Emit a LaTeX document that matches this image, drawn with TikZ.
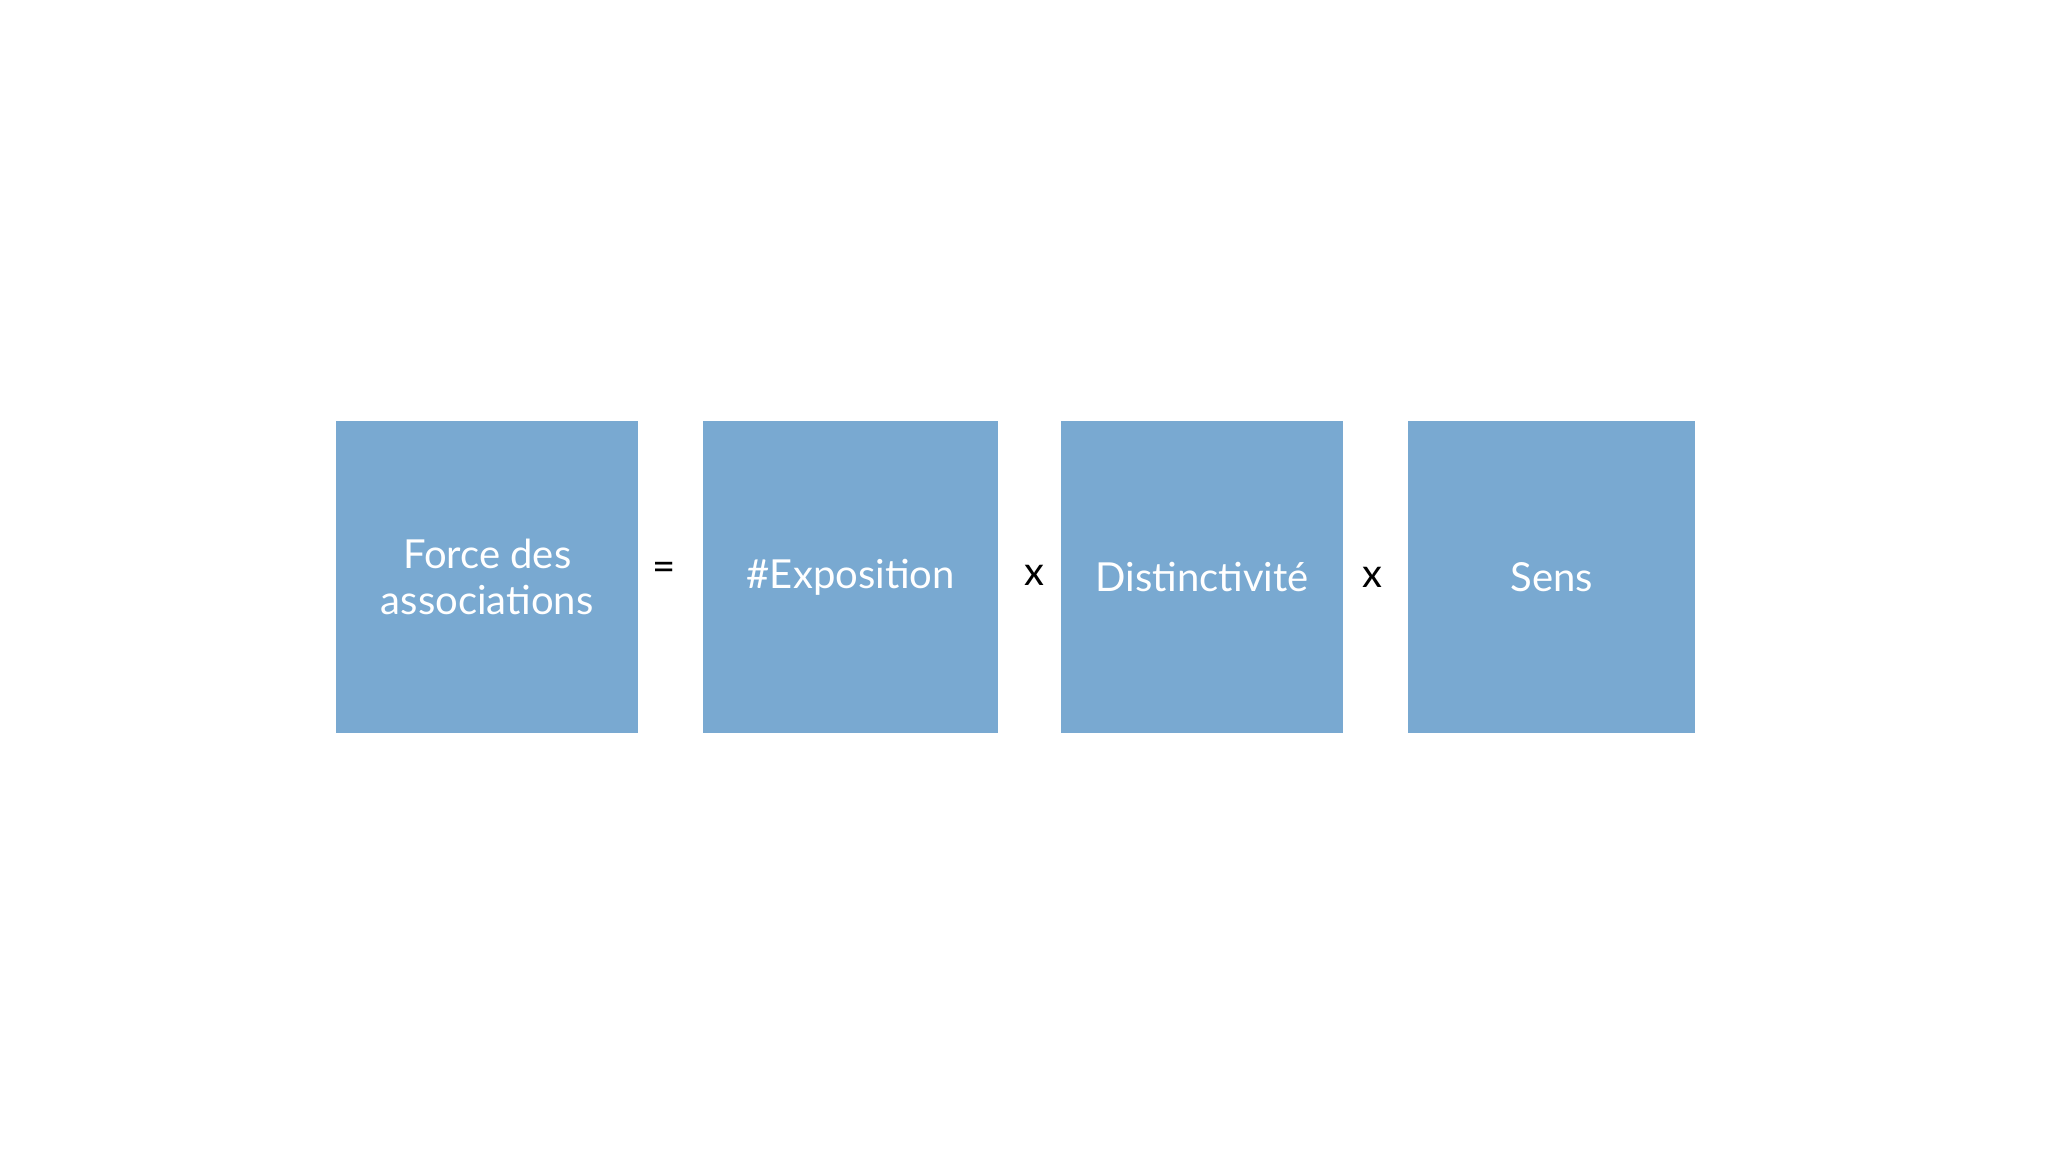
\documentclass[tikz,border=0pt]{standalone}
\usepackage{fontspec}
\setmainfont{Lato}
\definecolor{boxblue}{HTML}{79A9D1}
\tikzset{
  card/.style={fill=boxblue,draw=none,anchor=north west,inner sep=0pt,text=white,align=center,font=\fontsize{40}{46}\selectfont},
  op/.style={text=black,font=\fontsize{40}{46}\selectfont,inner sep=0pt}
}
\begin{document}
\begin{tikzpicture}[x=1pt,y=-1pt]
\useasboundingbox[fill=white] (0,0) rectangle (2048,1152);
\node[card,minimum width=302pt,minimum height=312pt] (a) at (336,421) {Force des\\associations};
\node[card,minimum width=295pt,minimum height=312pt] (b) at (703,421) {\#Exposition};
\node[card,minimum width=282pt,minimum height=312pt] (c) at (1061,421) {Distinctivité};
\node[card,minimum width=287pt,minimum height=312pt] (d) at (1408,421) {Sens};
\node[op] (e) at (664,571) {=};
\node[op] (x1) at (1034,575) {x};
\node[op] (x2) at (1372,577) {x};
\end{tikzpicture}
\end{document}
